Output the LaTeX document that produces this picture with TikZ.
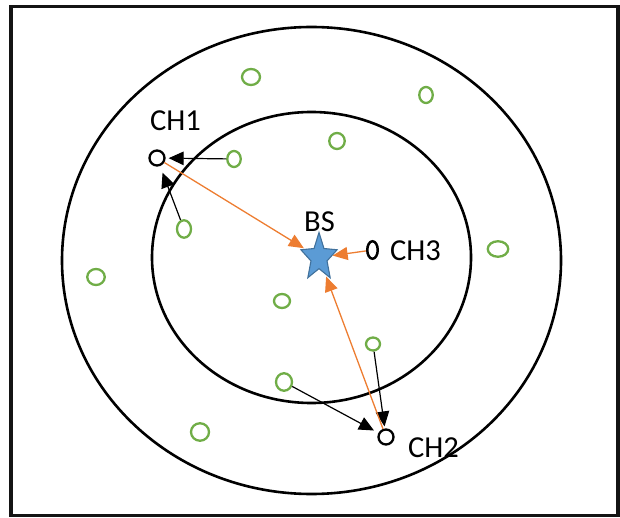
\documentclass[tikz,border=0pt]{standalone}
\usepackage{fontspec}
\setmainfont{Carlito}
\usetikzlibrary{shapes.geometric,arrows.meta}

\definecolor{linkorange}{HTML}{ED7D31}
\definecolor{sensorgreen}{HTML}{70AD47}
\definecolor{starfill}{HTML}{5B9BD5}
\definecolor{starline}{HTML}{41719C}

\tikzset{
  frame/.style={draw=black!92, line width=3.4pt},
  zone/.style={ellipse, draw=black, line width=2.6pt, inner sep=0pt},
  sensor/.style={ellipse, draw=sensorgreen, line width=2.3pt, inner sep=0pt,
                 minimum width=#1},
  sensor/.default=13pt,
  head/.style={circle, draw=black, line width=2.3pt, inner sep=0pt,
               minimum size=15pt},
  lbl/.style={font=\fontsize{30.5}{32}\selectfont, inner sep=0pt, anchor=base west},
  member/.style={draw=black, line width=1.2pt,
                 -{Triangle[length=15pt,width=13.5pt]}},
  uplink/.style={draw=linkorange, line width=1.3pt,
                 -{Triangle[length=15pt,width=13pt]}}
}

\begin{document}
\begin{tikzpicture}[x=1pt,y=-1pt]
\useasboundingbox (0,0) rectangle (620,518);

% field boundary
\draw[frame] (11,6.5) rectangle (618,515.5);

% communication zones around the base station
\node[zone, minimum width=499pt, minimum height=467pt] (outerzone) at (311.5,260.5) {};
\node[zone, minimum width=319pt, minimum height=291pt] (innerzone) at (311.5,257.5) {};

% ordinary sensor nodes
\node[sensor=18pt, minimum height=16pt] (s1)  at (251,77)  {};
\node[sensor=13.5pt, minimum height=16pt] (s2)  at (426,95)  {};
\node[sensor=15.5pt, minimum height=16pt] (s3)  at (337,141) {};
\node[sensor=13.5pt, minimum height=16pt] (s4)  at (234,159) {};
\node[sensor=14pt, minimum height=17.5pt] (s5)  at (184,229) {};
\node[sensor=17.5pt, minimum height=16pt] (s6)  at (96,277)  {};
\node[sensor=20.5pt, minimum height=15.5pt] (s7)  at (498,249) {};
\node[sensor=16pt, minimum height=14pt] (s8)  at (282,301) {};
\node[sensor=14pt, minimum height=13pt] (s9)  at (373,344) {};
\node[sensor=16pt, minimum height=17.5pt] (s10) at (284,382) {};
\node[sensor=18pt, minimum height=17.5pt] (s11) at (200,432) {};

% cluster heads
\node[head] (ch1) at (157,158) {};
\node[head] (ch2) at (386,437) {};
\node[ellipse, draw=black, line width=2.5pt, inner sep=0pt,
      minimum width=10.5pt, minimum height=17.5pt] (ch3) at (372.5,250) {};

% base station
\node[star, star points=5, star point ratio=2.25, minimum size=40pt, inner sep=0pt,
      draw=starline, fill=starfill, line width=1.1pt, xscale=0.95, yscale=1.25] (bs) at (319,257.5) {};

% labels
\node[lbl] (ch1label) at (150,130.5) {CH1};
\node[lbl] (ch3label) at (390,261) {CH3};
\node[lbl] (ch2label) at (408,457.5) {CH2};
\node[lbl] (bslabel)  at (304,232) {BS};

% members reporting to their cluster heads
\draw[member, shorten >=3pt] (s4) -- (ch1);
\draw[member, shorten >=7pt] (s5) -- (ch1);
\draw[member, shorten >=5pt] (s10) -- (ch2);
\draw[member, shorten >=2pt] (s9) -- (ch2);

% cluster heads forwarding to the base station
\draw[uplink, shorten >=1pt] (ch1) -- (bs);
\draw[uplink] (ch3) -- (bs);
\draw[uplink, shorten >=2pt] (ch2) -- (bs);
\end{tikzpicture}
\end{document}
